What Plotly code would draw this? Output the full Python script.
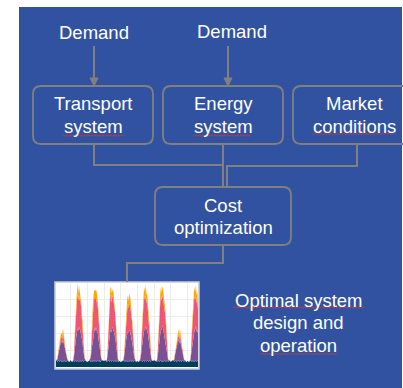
import plotly.graph_objects as go

W, H = 403, 388

# ---------------- data for the small stacked-area chart ----------------
# sample hours inside each day (night values sparse, daytime hourly)
day_hours = [0, 2, 4, 5, 6, 7, 8, 9, 10, 11, 12, 13, 14, 15, 16, 17, 18, 19, 20, 22]
n_days = 9
hours = [24 * d + h for d in range(n_days) for h in day_hours]

base_days = [
    [7, 6, 8, 6, 7, 8, 6, 7, 8, 6, 7, 6, 7, 8, 6, 7, 6, 8, 7, 6],
    [8, 6, 7, 7, 6, 8, 7, 6, 8, 7, 6, 7, 8, 6, 7, 8, 6, 7, 8, 7],
    [6, 7, 8, 6, 7, 6, 8, 7, 6, 8, 7, 6, 7, 8, 7, 6, 8, 6, 7, 8],
    [7, 8, 6, 7, 8, 7, 6, 8, 7, 6, 8, 7, 6, 7, 8, 6, 7, 8, 6, 7],
    [6, 7, 7, 8, 6, 7, 8, 6, 7, 7, 6, 8, 7, 6, 8, 7, 6, 7, 8, 6],
    [7, 6, 8, 7, 7, 6, 7, 8, 6, 7, 8, 6, 8, 7, 6, 7, 8, 6, 7, 7],
    [8, 7, 6, 7, 8, 6, 7, 7, 8, 6, 7, 7, 6, 8, 7, 6, 7, 8, 6, 8],
    [6, 8, 7, 6, 7, 8, 6, 7, 7, 8, 6, 7, 8, 6, 7, 8, 7, 6, 8, 6],
    [7, 6, 7, 8, 6, 7, 8, 6, 7, 7, 8, 6, 7, 8, 6, 7, 8, 7, 6, 7],
]
purple_days = [
    [0, 0, 1, 3, 7, 11, 15, 19, 22, 24, 21, 27, 22, 17, 12, 8, 5, 2, 1, 0],
    [0, 0, 1, 6, 14, 22, 28, 34, 38, 36, 42, 38, 36, 32, 28, 22, 15, 8, 2, 0],
    [0, 0, 1, 5, 13, 20, 27, 33, 37, 40, 36, 41, 34, 33, 27, 21, 14, 7, 2, 0],
    [0, 0, 1, 6, 15, 23, 29, 35, 37, 35, 40, 39, 37, 31, 29, 23, 16, 8, 2, 0],
    [0, 0, 1, 5, 12, 20, 26, 31, 35, 34, 38, 36, 33, 30, 26, 20, 13, 7, 2, 0],
    [0, 0, 1, 6, 14, 21, 28, 33, 38, 37, 41, 37, 35, 33, 27, 22, 15, 8, 2, 0],
    [0, 0, 1, 5, 13, 22, 29, 34, 36, 39, 43, 38, 37, 31, 28, 21, 14, 7, 2, 0],
    [0, 0, 1, 3, 8, 12, 16, 19, 23, 25, 22, 26, 21, 16, 13, 9, 5, 2, 1, 0],
    [0, 0, 1, 6, 15, 22, 28, 33, 37, 38, 41, 36, 37, 32, 29, 22, 15, 8, 2, 0],
]
pink_days = [
    [0, 0, 0, 0, 1, 2, 3, 4, 5, 6, 5, 8, 5, 4, 3, 2, 1, 0, 0, 0],
    [0, 0, 1, 4, 16, 26, 34, 38, 42, 36, 38, 34, 38, 30, 28, 22, 16, 8, 1, 0],
    [0, 0, 1, 3, 15, 24, 32, 36, 38, 33, 40, 32, 36, 31, 26, 20, 15, 7, 1, 0],
    [0, 0, 1, 4, 17, 27, 35, 40, 43, 35, 37, 36, 34, 29, 27, 21, 16, 8, 1, 0],
    [0, 0, 1, 3, 12, 20, 27, 31, 34, 29, 32, 30, 31, 25, 22, 18, 13, 6, 1, 0],
    [0, 0, 1, 4, 16, 25, 33, 37, 41, 35, 37, 33, 36, 29, 27, 21, 15, 8, 1, 0],
    [0, 0, 1, 4, 15, 26, 34, 39, 40, 34, 36, 35, 37, 30, 27, 22, 16, 7, 1, 0],
    [0, 0, 0, 0, 1, 2, 3, 4, 4, 6, 5, 7, 5, 4, 3, 2, 1, 0, 0, 0],
    [0, 0, 1, 4, 16, 25, 33, 38, 40, 35, 37, 34, 36, 30, 28, 21, 15, 8, 1, 0],
]
orange_days = [
    [0, 0, 0, 1, 2, 3, 3, 4, 5, 4, 6, 5, 4, 3, 2, 1, 1, 0, 0, 0],
    [0, 0, 0, 2, 6, 8, 7, 10, 12, 8, 11, 12, 7, 10, 6, 8, 5, 3, 1, 0],
    [0, 0, 0, 2, 5, 7, 8, 9, 11, 10, 8, 12, 9, 7, 8, 6, 5, 2, 1, 0],
    [0, 0, 0, 2, 6, 8, 6, 10, 9, 12, 8, 11, 8, 9, 6, 7, 4, 3, 1, 0],
    [0, 0, 0, 2, 5, 7, 7, 9, 10, 8, 12, 9, 10, 8, 7, 6, 5, 2, 1, 0],
    [0, 0, 0, 2, 6, 8, 8, 11, 10, 9, 12, 10, 8, 9, 7, 6, 4, 3, 1, 0],
    [0, 0, 0, 2, 5, 8, 7, 10, 12, 9, 11, 10, 9, 8, 7, 7, 5, 2, 1, 0],
    [0, 0, 0, 1, 2, 3, 4, 4, 5, 6, 4, 6, 5, 3, 2, 1, 1, 0, 0, 0],
    [0, 0, 0, 2, 6, 8, 7, 10, 11, 9, 12, 10, 8, 9, 7, 6, 5, 3, 1, 0],
]

def flat(days):
    return [v for d in days for v in d]

layers = [
    ("base", flat(base_days), "#003f5c"),
    ("purple", flat(purple_days), "#7a5195"),
    ("pink", flat(pink_days), "#ef5675"),
    ("orange", flat(orange_days), "#ffa600"),
]

# ---------------- diagram texts ----------------
demand_labels = ["Demand", "Demand"]
box_labels = [["Transport", "system"], ["Energy", "system"], ["Market", "conditions"]]
cost_label = ["Cost", "optimization"]
result_label = ["Optimal system", "design and", "operation"]

# ---------------- helpers (pixel -> paper) ----------------
def fx(x):
    return x / W

def fy(y):
    return 1 - y / H

BLUE = "#3152a0"
GRAY = "#808080"
WHITE = "#ffffff"
FONT = "Liberation Sans, Arial, sans-serif"

shapes = []

def rect(x0, y0, x1, y1, fill, line=None, lw=0):
    shapes.append(dict(type="rect", xref="paper", yref="paper", layer="below",
                       x0=fx(x0), x1=fx(x1), y0=fy(y1), y1=fy(y0),
                       fillcolor=fill, line=dict(width=lw, color=line or fill)))

def rrect(x0, y0, x1, y1, r=8):
    p = (f"M{fx(x0 + r)},{fy(y0)} L{fx(x1 - r)},{fy(y0)} "
         f"Q{fx(x1)},{fy(y0)} {fx(x1)},{fy(y0 + r)} "
         f"L{fx(x1)},{fy(y1 - r)} Q{fx(x1)},{fy(y1)} {fx(x1 - r)},{fy(y1)} "
         f"L{fx(x0 + r)},{fy(y1)} Q{fx(x0)},{fy(y1)} {fx(x0)},{fy(y1 - r)} "
         f"L{fx(x0)},{fy(y0 + r)} Q{fx(x0)},{fy(y0)} {fx(x0 + r)},{fy(y0)} Z")
    shapes.append(dict(type="path", xref="paper", yref="paper", path=p,
                       line=dict(color=GRAY, width=1.8)))

def polyline(pts, color=GRAY, w=2):
    p = "M" + " L".join(f"{fx(x)},{fy(y)}" for x, y in pts)
    shapes.append(dict(type="path", xref="paper", yref="paper", path=p,
                       line=dict(color=color, width=w)))

def arrowhead(x, ytip):
    p = f"M{fx(x - 4)},{fy(ytip - 8)} L{fx(x + 4)},{fy(ytip - 8)} L{fx(x)},{fy(ytip)} Z"
    shapes.append(dict(type="path", xref="paper", yref="paper", path=p,
                       fillcolor=GRAY, line=dict(color=GRAY, width=1)))

def squiggle(x0, x1, y):
    pts = []
    x = x0
    up = True
    while x <= x1:
        pts.append((x, y - 0.8 if up else y + 0.8))
        up = not up
        x += 1.6
    polyline(pts, color="#d9343a", w=0.9)

# background panel + mini chart frame
rect(19, 7, 402, 388, BLUE)
rect(55, 282, 199, 369, WHITE, line="#c9ccd4", lw=1.5)

# boxes
rrect(33, 86, 153, 144)
rrect(163, 86, 283, 144)
rrect(293, 86, 415, 144)
rrect(155, 187, 291, 245)

# demand arrows
polyline([(94, 46), (94, 80)])
arrowhead(94, 86)
polyline([(228, 46), (228, 80)])
arrowhead(228, 86)

# connectors
polyline([(94, 144), (94, 165), (223, 165)])
polyline([(223, 144), (223, 187)])
polyline([(357, 144), (357, 166), (227, 166), (227, 187)])
polyline([(223, 245), (223, 263), (127, 263), (127, 282)])

# spell-check squiggles
squiggle(63, 125, 135.5)
squiggle(193, 252, 135.5)
squiggle(312, 395, 134)
squiggle(233, 365, 307.5)
squiggle(260, 337, 354)

annotations = []

def label(text, cx, cy, size=18.5):
    annotations.append(dict(text=text, x=fx(cx), y=fy(cy), xref="paper", yref="paper",
                            xanchor="center", yanchor="middle", showarrow=False,
                            font=dict(family=FONT, size=size, color=WHITE)))

label(demand_labels[0], 94, 32)
label(demand_labels[1], 231.5, 31.5)
for (l1, l2), cx in zip(box_labels, [93, 223, 354]):
    label(l1, cx, 104)
    label(l2, cx, 127)
label(cost_label[0], cx=223, cy=205)
label(cost_label[1], cx=223, cy=227.5)
for txt, cy in zip(result_label, [300, 322.5, 345]):
    label(txt, 298, cy)

fig = go.Figure()
for name, vals, col in layers:
    fig.add_trace(go.Scatter(x=hours, y=vals, name=name, stackgroup="one", mode="lines",
                             line=dict(width=0, color=col), fillcolor=col,
                             hoverinfo="skip", showlegend=False))

fig.update_layout(
    width=W, height=H, autosize=False,
    margin=dict(l=0, r=0, t=0, b=0, pad=0),
    paper_bgcolor=WHITE, plot_bgcolor="rgba(0,0,0,0)",
    shapes=shapes, annotations=annotations, showlegend=False,
    xaxis=dict(domain=[fx(56), fx(198)], range=[3, 207], showticklabels=False,
               ticks="", showgrid=True, gridcolor="#ececec", gridwidth=1,
               tick0=0, dtick=24, zeroline=False, showline=False, fixedrange=True),
    yaxis=dict(domain=[fy(367), fy(283)], range=[0, 100], showticklabels=False,
               ticks="", showgrid=True, gridcolor="#ececec", gridwidth=1,
               dtick=20, zeroline=False, showline=False, fixedrange=True),
)

fig.write_html("out.html")
